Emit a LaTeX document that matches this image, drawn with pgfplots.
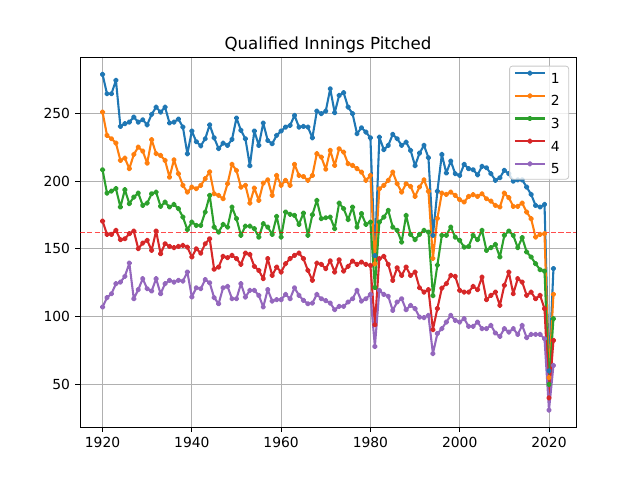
\documentclass[border=0pt]{standalone}
\usepackage{pgfplots}
\pgfplotsset{compat=1.18}
\usepackage{pgfplotstable}
\usepackage{fontspec}
\setmainfont{DejaVu Sans}
\definecolor{c1}{HTML}{1F77B4}
\definecolor{c2}{HTML}{FF7F0E}
\definecolor{c3}{HTML}{2CA02C}
\definecolor{c4}{HTML}{D62728}
\definecolor{c5}{HTML}{9467BD}
\definecolor{gridc}{HTML}{B0B0B0}
\pgfplotstableread{
year s1 s2 s3 s4 s5
1920 278.8 251.0 208.4 170.5 107.1
1921 264.5 233.8 191.2 160.7 114.0
1922 264.5 231.3 192.7 160.7 116.9
1923 274.4 228.1 194.5 163.7 124.3
1924 240.4 215.3 180.9 156.8 125.5
1925 242.4 217.0 193.7 157.5 129.7
1926 243.6 209.2 183.4 161.2 139.5
1927 247.3 219.7 188.2 163.2 113.2
1928 243.6 225.1 191.2 150.1 119.9
1929 245.3 222.2 182.1 154.3 128.0
1930 241.6 213.3 183.8 156.3 120.6
1931 249.3 230.6 190.7 148.9 118.9
1932 254.6 220.3 191.9 163.2 128.0
1933 251.0 219.0 181.4 146.4 116.9
1934 254.6 215.3 184.5 153.8 124.3
1935 242.9 203.0 180.9 151.8 126.8
1936 243.6 215.8 182.8 150.9 125.5
1937 245.8 205.5 179.7 151.8 126.8
1938 239.9 196.9 173.5 152.6 126.2
1939 220.2 191.9 164.2 151.3 132.9
1940 237.0 195.6 169.8 144.0 114.5
1941 229.1 194.4 167.3 150.1 121.3
1942 226.1 196.9 167.3 146.9 120.6
1943 231.3 201.8 177.2 153.8 127.3
1944 241.6 206.9 189.5 157.5 125.0
1945 232.0 190.7 166.1 135.0 114.0
1946 224.0 189.5 162.4 136.6 109.5
1947 228.0 187.0 168.1 144.5 121.3
1948 226.4 198.1 166.1 143.5 122.3
1949 230.8 212.4 180.9 145.2 113.2
1950 246.6 207.9 172.3 142.8 113.2
1951 237.5 195.6 160.0 138.6 124.3
1952 231.3 196.9 166.8 146.9 114.4
1953 211.4 183.8 166.8 145.9 119.4
1954 237.0 194.9 164.9 137.1 119.4
1955 226.4 185.8 158.7 134.1 115.7
1956 242.9 198.6 168.6 128.0 107.1
1957 230.0 201.0 166.1 142.8 119.9
1958 227.6 189.5 160.7 130.4 111.5
1959 233.8 204.2 174.0 136.6 112.5
1960 237.0 196.9 158.7 132.9 112.5
1961 239.9 200.6 177.2 139.1 116.4
1962 241.1 196.9 175.5 142.8 113.2
1963 248.5 212.4 174.7 145.2 121.3
1964 239.9 204.2 168.1 146.9 115.7
1965 240.4 203.4 176.4 142.8 112.0
1966 239.9 200.6 160.0 134.1 109.5
1967 232.0 204.2 175.2 126.8 110.0
1968 251.7 220.3 185.8 139.5 116.4
1969 249.8 217.8 172.3 138.6 113.2
1970 251.7 208.8 173.0 135.4 111.8
1971 268.2 222.7 173.5 141.2 110.0
1972 250.5 211.6 164.9 132.9 105.1
1973 263.3 223.9 183.8 142.0 107.6
1974 265.3 221.4 179.7 133.6 107.6
1975 254.7 212.9 171.6 137.1 110.8
1976 249.8 211.6 180.9 141.0 113.2
1977 235.0 209.2 166.1 138.6 119.4
1978 239.4 206.7 176.0 140.3 111.5
1979 236.2 200.6 168.1 138.6 113.2
1980 232.0 204.2 169.8 137.8 116.4
1981 145.0 139.0 121.5 94.0 78.0
1982 232.5 194.4 169.8 142.8 119.4
1983 223.2 196.9 173.5 144.5 116.4
1984 226.4 200.6 178.4 138.6 115.0
1985 234.5 206.7 166.1 126.8 104.6
1986 231.3 198.1 163.7 136.1 110.8
1987 226.4 191.9 155.0 130.4 113.2
1988 228.8 198.1 174.7 136.6 105.1
1989 222.7 196.1 160.7 130.4 108.3
1990 211.4 188.7 156.8 132.9 105.9
1991 220.7 195.7 160.7 121.3 99.7
1992 226.4 201.0 163.7 118.1 99.3
1993 217.3 192.5 162.4 119.9 100.9
1994 160.0 143.0 115.5 90.4 72.7
1995 192.5 172.5 138.0 106.0 87.5
1996 219.7 191.2 160.0 121.0 91.1
1997 206.0 190.2 160.0 124.3 96.0
1998 214.8 191.9 166.1 130.4 100.9
1999 205.5 189.5 158.7 129.7 97.2
2000 204.2 186.3 156.3 119.4 96.0
2001 212.4 184.6 151.3 118.1 98.5
2002 209.2 188.7 151.8 118.1 92.8
2003 208.4 190.0 160.0 122.3 92.8
2004 204.7 188.7 156.8 119.9 96.0
2005 210.9 190.7 163.7 129.2 91.1
2006 209.9 187.0 148.9 112.5 91.1
2007 205.5 185.3 150.9 115.7 93.5
2008 200.6 182.1 153.3 118.1 87.9
2009 202.5 180.9 144.0 108.3 85.4
2010 208.0 191.2 160.0 123.1 91.1
2011 205.5 187.8 163.2 132.9 88.6
2012 200.0 181.4 160.0 116.9 91.1
2013 201.0 181.4 150.9 128.0 86.9
2014 201.0 183.8 158.3 125.5 93.5
2015 195.6 177.2 147.7 115.7 84.5
2016 190.2 172.3 144.0 118.1 86.9
2017 182.1 158.7 139.1 113.2 86.9
2018 180.9 160.7 134.6 115.7 86.9
2019 182.8 161.2 133.6 105.9 83.7
2020 60.0 55.0 50.0 40.0 31.0
2021 135.5 116.5 98.5 82.5 64.0
}\datatable
\begin{document}
\begin{tikzpicture}
\begin{axis}[
  width=372pt, height=277.2pt, scale only axis,
  xmin=1914.95, xmax=2026.05, ymin=18.4, ymax=291.2,
  xtick={1920,1940,...,2020}, ytick={50,100,...,250},
  xtick pos=bottom, ytick pos=left,
  tick align=outside, major tick length=3.65pt,
  tick style={black, line width=0.6pt},
  axis line style={line width=0.6pt},
  grid=major, grid style={color=gridc, line width=0.6pt},
  ticklabel style={font=\fontsize{10.4}{12}\selectfont, inner sep=0pt},
  xticklabel style={anchor=north, yshift=-3.65pt},
  yticklabel style={anchor=east, xshift=-3.65pt},
  /pgf/number format/1000 sep={},
  /pgf/number format/assume math mode=true,
  title={Qualified Innings Pitched},
  every axis title shift=0pt,
  title style={font=\fontsize{12.5}{15}\selectfont, at={(0.5,1)}, anchor=base, yshift=6.4pt, inner sep=0pt},
  legend style={at={(0.986,0.978)}, anchor=north east, draw=gridc!70, line width=0.6pt,
    rounded corners=2pt, fill=white, fill opacity=0.8, text opacity=1,
    font=\fontsize{10.4}{12}\selectfont, row sep=8.2pt, inner xsep=3.2pt, inner ysep=4pt,
    nodes={inner xsep=3.6pt, inner ysep=0pt, text height=7.5pt, text depth=0pt}},
  legend cell align=left,
  legend image code/.code={\draw[#1, mark repeat=2, mark phase=2] plot coordinates {(0pt,3.75pt) (11.25pt,3.75pt) (22.5pt,3.75pt)};},
  every axis plot/.append style={line width=1.56pt, line join=round, mark=*, mark size=1.3pt, mark options={solid}},
  clip=true,
]
\addplot[color=c1] table[x=year, y=s1]{\datatable};
\addplot[color=c2] table[x=year, y=s2]{\datatable};
\addplot[color=c3] table[x=year, y=s3]{\datatable};
\addplot[color=c4] table[x=year, y=s4]{\datatable};
\addplot[color=c5] table[x=year, y=s5]{\datatable};
\addplot[color=red, opacity=0.7, line width=0.75pt, mark=none, dash pattern=on 3.85pt off 1.67pt, forget plot] coordinates {(1914.95,162) (2026.05,162)};
\legend{1,2,3,4,5}
\coordinate (bl) at (rel axis cs:0,0);
\coordinate (tr) at (rel axis cs:1,1);
\end{axis}
\path[draw=none] ([shift={(-60pt,-39.6pt)}]bl) rectangle ([shift={(48pt,43.2pt)}]tr);
\end{tikzpicture}
\end{document}
